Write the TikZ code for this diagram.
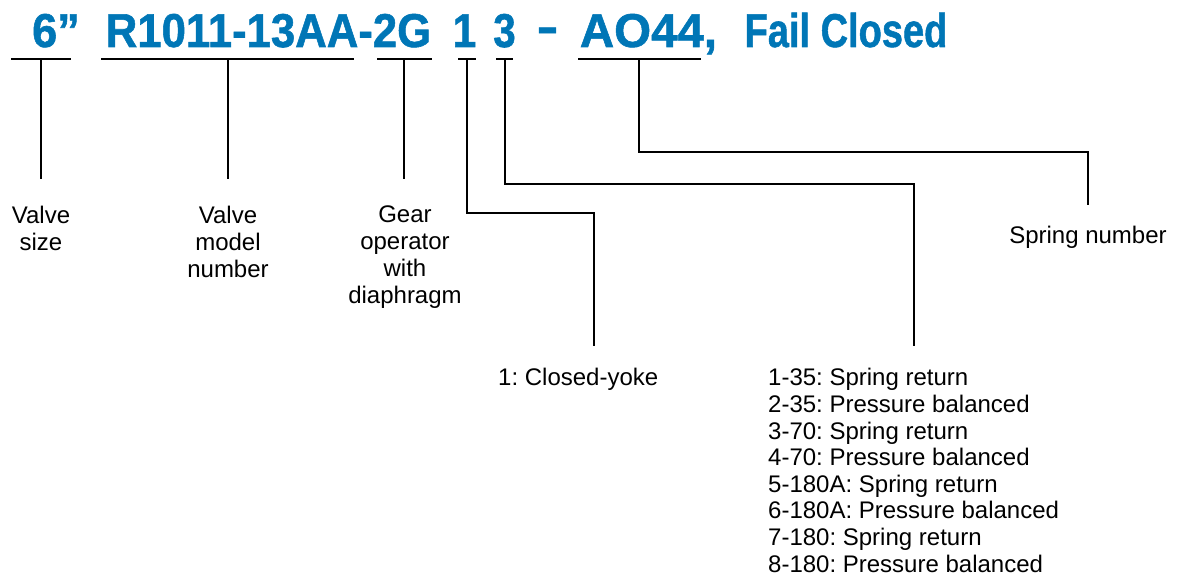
\documentclass[tikz,border=0pt]{standalone}
\usepackage{fontspec}
\usepackage{graphicx}
\setmainfont{Liberation Sans}
\newfontfamily\titlefont[FakeBold=1.2]{Liberation Sans}
\frenchspacing
\definecolor{titleblue}{RGB}{0,118,182}
\tikzset{
  seg/.style={inner sep=0pt, anchor=base, text=titleblue, font=\titlefont\bfseries\fontsize{47.5}{50}\selectfont},
  lbl/.style={inner sep=0pt, anchor=north, align=center, font=\fontsize{24}{27}\selectfont},
  lst/.style={inner sep=0pt, anchor=north west, align=left, font=\fontsize{24}{26.6}\selectfont},
  conn/.style={line width=2pt, line cap=rect},
  uline/.style={line width=2.2pt}
}
\begin{document}
\begin{tikzpicture}[x=1pt,y=-1pt]
\useasboundingbox (0,0) rectangle (1187,575);
% title segments
\node[seg] (t6) at (56,47) {\scalebox{0.95}[1]{6”}};
\node[seg] (tmodel) at (268.5,47) {\scalebox{0.92}[1]{R1011-13AA-2G}};
\node[seg] (tyoke) at (464.5,47) {\scalebox{0.9}[1]{1}};
\node[seg] (ttype) at (504.5,47) {\scalebox{0.85}[1]{3}};
\node[seg] (tdash) at (547.5,45) {\scalebox{0.72}[1.15]{–}};
\node[seg] (tspring) at (648.5,47) {\scalebox{1.0}[1]{AO44,}};
\node[seg] (tfail) at (846,47) {\scalebox{0.8}[1]{Fail Closed}};
% underline coordinates
\coordinate (u6a) at (11,59);   \coordinate (u6b) at (71,59);   \coordinate (u6m) at (41,59);
\coordinate (uma) at (101,59);  \coordinate (umb) at (354,59);  \coordinate (umm) at (228,59);
\coordinate (uga) at (377,59);  \coordinate (ugb) at (432,59);  \coordinate (ugm) at (404,59);
\coordinate (uya) at (458,59);  \coordinate (uyb) at (476,59);  \coordinate (uym) at (467,59);
\coordinate (uta) at (496,59);  \coordinate (utb) at (513,59);  \coordinate (utm) at (505,59);
\coordinate (usa) at (578,59);  \coordinate (usb) at (701,59);  \coordinate (usm) at (639,59);
% connector ends
\coordinate (e6) at (41,178);
\coordinate (em) at (228,178);
\coordinate (eg) at (404,178);
\coordinate (cy) at (594,213);  \coordinate (ey) at (594,345);
\coordinate (ct) at (914,184);  \coordinate (et) at (914,345);
\coordinate (cs) at (1088,152); \coordinate (es) at (1088,204);
% underlines
\foreach \a/\b in {u6a/u6b,uma/umb,uga/ugb,uya/uyb,uta/utb,usa/usb}
  \draw[uline] (\a) -- (\b);
% connectors
\draw[conn] (u6m) -- (e6);
\draw[conn] (umm) -- (em);
\draw[conn] (ugm) -- (eg);
\draw[conn] (uym) |- (cy) -- (ey);
\draw[conn] (utm) |- (ct) -- (et);
\draw[conn] (usm) |- (cs) -- (es);
% labels
\node[lbl] (lsize) at (41,206) {Valve\\size};
\node[lbl] (lmodel) at (228,206) {Valve\\model\\number};
\node[lbl] (lgear) at (405,205.8) {Gear\\operator\\with\\diaphragm};
\node[lbl] (lspring) at (1088,226) {Spring number};
\node[lst] (lyoke) at (498,368) {1: Closed-yoke};
\node[lst] (ltype) at (768,368.3) {1-35: Spring return\\2-35: Pressure balanced\\3-70: Spring return\\4-70: Pressure balanced\\5-180A: Spring return\\6-180A: Pressure balanced\\7-180: Spring return\\8-180: Pressure balanced};
\end{tikzpicture}
\end{document}
